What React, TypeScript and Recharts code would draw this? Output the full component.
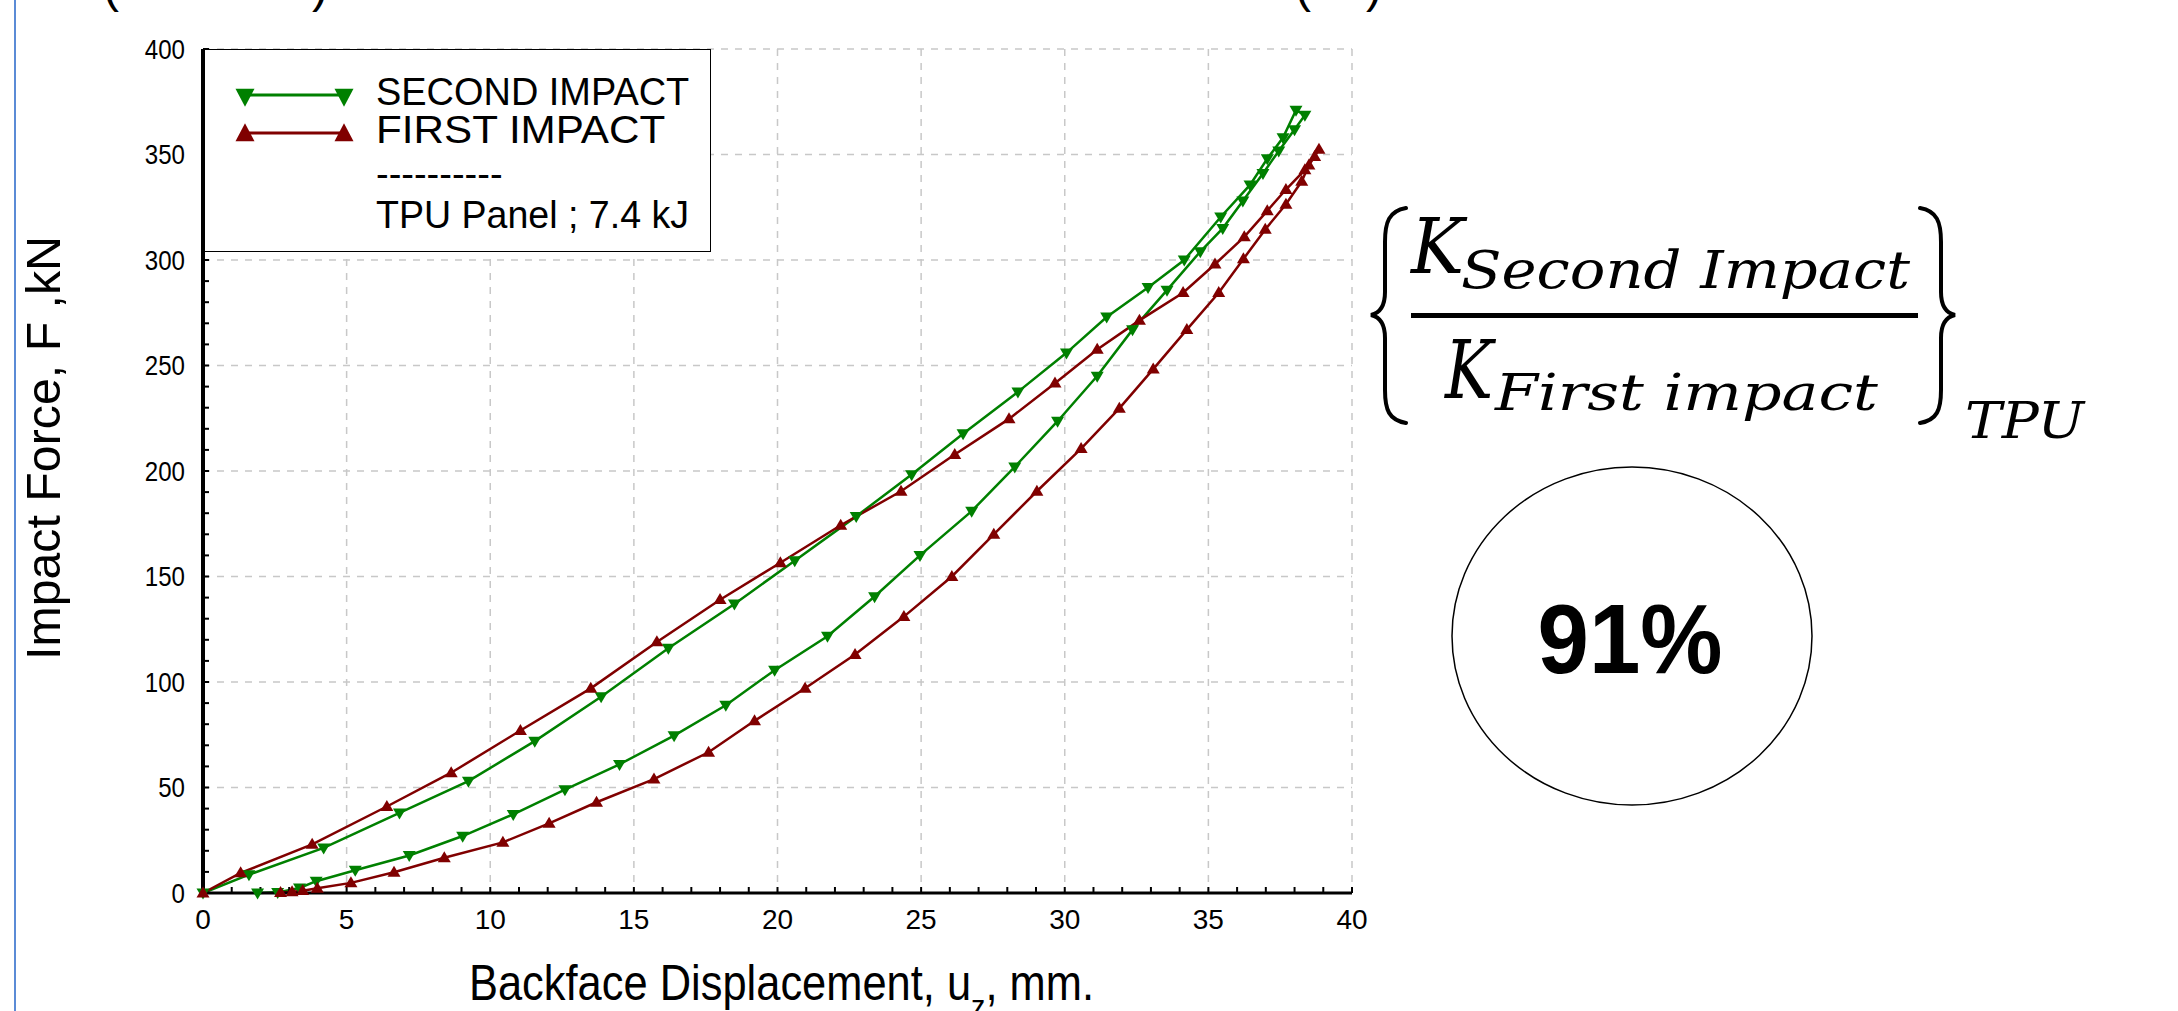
import React from 'react'
import { LineChart, Line, XAxis, YAxis, CartesianGrid, Legend } from 'recharts'

// backface displacement (mm) and impact force (kN)
// each series runs up the upper branch to the peak and back down the lower branch
const secondImpactDisp = [
  0, 1.6, 4.2, 6.84, 9.24, 11.55, 13.86, 16.2, 18.5, 20.6, 22.74, 24.67, 26.46, 28.37, 30.06, 31.46,
  32.9, 34.16, 35.43, 36.45, 37.05, 37.6, 38.05, 38.36, 38.0, 37.45, 36.9, 36.2, 35.5, 34.72, 33.56,
  32.36, 31.13, 29.75, 28.26, 26.76, 24.96, 23.38, 21.74, 19.9, 18.2, 16.4, 14.5, 12.6, 10.8, 9.04,
  7.18, 5.3, 3.94, 3.36, 2.6, 1.9,
]
const secondImpactForce = [
  0, 8.7, 21.4, 38, 53, 72, 93, 116, 137, 157.5, 178.5, 198.3, 217.7, 237.5, 256, 273,
  287, 300, 320.4, 335.6, 348, 358, 371, 368.6, 361.8, 351.7, 341, 328, 315, 304, 285.7,
  267, 245, 223.6, 202, 181, 160, 140.5, 121.7, 105.6, 89, 74.6, 61, 49, 37.3, 27,
  17.8, 10.8, 5.6, 2.4, 0.3, 0,
]
const firstImpactDisp = [
  0, 1.31, 3.8, 6.4, 8.64, 11.05, 13.5, 15.8, 18.0, 20.1, 22.2, 24.3, 26.17, 28.06, 29.66, 31.13,
  32.6, 34.12, 35.23, 36.25, 37.05, 37.7, 38.36, 38.85, 38.7, 38.5, 38.25, 37.7, 36.98, 36.22, 35.36,
  34.25, 33.08, 31.9, 30.57, 29.03, 27.53, 26.07, 24.4, 22.7, 20.96, 19.2, 17.6, 15.7, 13.7, 12.05,
  10.44, 8.4, 6.65, 5.15, 3.98, 3.47, 3.1, 2.7,
]
const firstImpactForce = [
  0, 9.5, 23, 41, 57, 77, 97, 119, 139, 156.5, 174.3, 190.4, 207.8, 224.7, 241.6, 257.6,
  271.4, 284.5, 298, 311, 323.3, 333.4, 342.7, 352.5, 349, 345, 337.3, 326.4, 314.5, 300.5, 284.5,
  267, 248.3, 229.7, 210.6, 190.4, 170, 150, 131, 113, 97, 81.6, 66.7, 54, 43, 33,
  24, 16.7, 9.8, 4.8, 2.2, 1.1, 0.6, 0.2,
]

const seriesNames = ['SECOND IMPACT', 'FIRST IMPACT']
const xMajorTicks = [0, 5, 10, 15, 20, 25, 30, 35, 40]
const xMinorTicks = [
  0, 1, 2, 3, 4, 5, 6, 7, 8, 9, 10, 11, 12, 13, 14, 15, 16, 17, 18, 19, 20,
  21, 22, 23, 24, 25, 26, 27, 28, 29, 30, 31, 32, 33, 34, 35, 36, 37, 38, 39, 40,
]
const yMajorTicks = [0, 50, 100, 150, 200, 250, 300, 350, 400]
const yMinorTicks = [
  0, 10, 20, 30, 40, 50, 60, 70, 80, 90, 100, 110, 120, 130, 140, 150, 160, 170, 180, 190, 200,
  210, 220, 230, 240, 250, 260, 270, 280, 290, 300, 310, 320, 330, 340, 350, 360, 370, 380, 390, 400,
]

const GREEN = '#008000'
const RED = '#800000'
const SANS = '"Liberation Sans", Arial, sans-serif'
const SERIF = '"DejaVu Serif", serif'

const toPoints = (xs: number[], ys: number[]) => xs.map((x, i) => ({ x, y: ys[i] }))
const secondData = toPoints(secondImpactDisp, secondImpactForce)
const firstData = toPoints(firstImpactDisp, firstImpactForce)

const markerDown: Record<string, boolean> = { 'SECOND IMPACT': true, 'FIRST IMPACT': false }

function triangle(cx: number, cy: number, w: number, h: number, down: boolean) {
  if (down) {
    return `M${cx - w / 2},${cy - h * 0.4} L${cx + w / 2},${cy - h * 0.4} L${cx},${cy + h * 0.6} Z`
  }
  return `M${cx - w / 2},${cy + h * 0.4} L${cx + w / 2},${cy + h * 0.4} L${cx},${cy - h * 0.6} Z`
}

const makeDot = (color: string, down: boolean) => (p: any) => (
  <path key={`${color}-${p.index}`} d={triangle(p.cx, p.cy, 13, 11, down)} fill={color} />
)

// y tick labels are a little narrow in the original
const YTick = ({ x, y, payload }: any) => {
  const label = yMajorTicks.includes(payload.value) ? String(payload.value) : ''
  if (!label) return null
  return (
    <text x={x} y={y} dy="0.355em" textAnchor="end" fontFamily={SANS} fontSize={28} fill="#000"
      textLength={label.length * 13.4} lengthAdjust="spacingAndGlyphs">
      {label}
    </text>
  )
}

const LegendBox = ({ payload }: any) => {
  const items = [...(payload || [])].sort(
    (a: any, b: any) => seriesNames.indexOf(a.value) - seriesNames.indexOf(b.value),
  )
  return (
    <div style={{ width: 507, height: 203, position: 'relative', background: '#fff', border: '1.5px solid #000', boxSizing: 'border-box' }}>
      <svg width={507} height={203} style={{ position: 'absolute', left: -1.5, top: -1.5 }}>
        {items.map((e: any, i: number) => {
          const y = 46 + i * 38
          const down = markerDown[e.value]
          return (
            <g key={e.value}>
              <line x1={41} x2={140} y1={y} y2={y} stroke={e.color} strokeWidth={3} />
              <path d={triangle(41, y + 1, 19, 18, down)} fill={e.color} />
              <path d={triangle(140, y + 1, 19, 18, down)} fill={e.color} />
              <text x={172} y={56 + i * 38} fontFamily={SANS} fontSize={39} fill="#000"
                textLength={e.value.length * 24.1} lengthAdjust="spacingAndGlyphs">{e.value}</text>
            </g>
          )
        })}
        <text x={172} y={138} fontFamily={SANS} fontSize={38} fill="#000">----------</text>
        <text x={172} y={179} fontFamily={SANS} fontSize={39} fill="#000" textLength={313} lengthAdjust="spacingAndGlyphs">
          TPU Panel ; 7.4 kJ
        </text>
      </svg>
    </div>
  )
}

const Annotations = () => (
  <svg width={2178} height={1011} style={{ position: 'absolute', left: 0, top: 0, pointerEvents: 'none' }}>
    <line x1={15} x2={15} y1={0} y2={1011} stroke="#5b8bd6" strokeWidth={2} />
    <g fontFamily={SANS} fontSize={48} fill="#000">
      <text x={103} y={2}>(</text>
      <text x={312} y={2}>)</text>
      <text x={1295} y={2}>(</text>
      <text x={1366} y={2}>)</text>
    </g>
    <text transform="translate(60,448) rotate(-90)" textAnchor="middle" fontFamily={SANS} fontSize={49}
      textLength={424} lengthAdjust="spacingAndGlyphs" fill="#000">
      Impact Force, F ,kN
    </text>
    <text x={469} y={1000} fontFamily={SANS} fontSize={50} fill="#000" textLength={625} lengthAdjust="spacingAndGlyphs">
      <tspan>Backface Displacement, u</tspan>
      <tspan fontSize={33} dy={18}>z</tspan>
      <tspan dy={-18}>, mm.</tspan>
    </text>

    <g fill="none" stroke="#000" strokeWidth={4} strokeLinecap="round">
      <path d="M1406,208 C1389,211 1385,222 1385,242 L1385,292 C1385,306 1380,313 1371,315 C1380,317 1385,324 1385,338 L1385,390 C1385,410 1389,420 1406,423" />
      <path d="M1920,208 C1937,211 1941,222 1941,242 L1941,292 C1941,306 1946,313 1955,315 C1946,317 1941,324 1941,338 L1941,390 C1941,410 1937,420 1920,423" />
    </g>
    <g fontFamily={SERIF} fontStyle="italic" fill="#000">
      <text x={1411} y={273} fontSize={77} textLength={53} lengthAdjust="spacingAndGlyphs">K</text>
      <text x={1461} y={288} fontSize={52} textLength={449} lengthAdjust="spacingAndGlyphs">Second Impact</text>
      <text x={1445} y={398} fontSize={80} textLength={48} lengthAdjust="spacingAndGlyphs">K</text>
      <text x={1495} y={410} fontSize={51} textLength={383} lengthAdjust="spacingAndGlyphs">First impact</text>
      <text x={1965} y={438} fontSize={50} textLength={119} lengthAdjust="spacingAndGlyphs">TPU</text>
    </g>
    <rect x={1411} y={313} width={507} height={5} fill="#000" />

    <ellipse cx={1632} cy={636} rx={180} ry={169} fill="none" stroke="#000" strokeWidth={1.5} />
    <text x={1630} y={673} textAnchor="middle" fontFamily={SANS} fontWeight="bold" fontSize={98} textLength={185} lengthAdjust="spacingAndGlyphs" fill="#000">
      91%
    </text>
  </svg>
)

const axisStroke = { stroke: '#000', strokeWidth: 3 }
const tickStroke = { stroke: '#000', strokeWidth: 2 }

export default function App() {
  return (
    <div style={{ position: 'absolute', left: 0, top: 0, width: 2178, height: 1011, background: '#fff', overflow: 'hidden' }}>
      <LineChart width={2178} height={1011} margin={{ top: 49, right: 826, bottom: 88, left: 143 }}>
        <CartesianGrid
          verticalValues={xMajorTicks}
          horizontalValues={yMajorTicks}
          stroke="#c8c8c8"
          strokeWidth={1.5}
          strokeDasharray="7 7"
        />
        <XAxis
          type="number"
          dataKey="x"
          domain={[0, 40]}
          ticks={xMinorTicks}
          interval={0}
          height={30}
          tickSize={-6}
          tickMargin={22}
          tickFormatter={(v: number) => (xMajorTicks.includes(v) ? String(v) : '')}
          tick={{ fontFamily: SANS, fontSize: 28, fill: '#000' }}
          axisLine={axisStroke}
          tickLine={tickStroke}
        />
        <XAxis
          xAxisId="top"
          orientation="top"
          type="number"
          domain={[0, 40]}
          ticks={xMinorTicks}
          interval={0}
          height={0}
          tickSize={-6}
          tick={false}
          axisLine={axisStroke}
          tickLine={tickStroke}
        />
        <YAxis
          type="number"
          domain={[0, 400]}
          ticks={yMinorTicks}
          interval={0}
          width={60}
          tickSize={-6}
          tickMargin={24}
          tick={<YTick />}
          axisLine={{ stroke: '#000', strokeWidth: 4 }}
          tickLine={tickStroke}
        />
        <YAxis
          yAxisId="right"
          orientation="right"
          type="number"
          domain={[0, 400]}
          ticks={yMinorTicks}
          interval={0}
          width={0}
          tickSize={-6}
          tick={false}
          axisLine={{ stroke: '#000', strokeWidth: 4 }}
          tickLine={tickStroke}
        />
        <Line
          data={secondData}
          dataKey="y"
          name={seriesNames[0]}
          type="linear"
          stroke={GREEN}
          strokeWidth={2.5}
          dot={makeDot(GREEN, true)}
          activeDot={false}
          isAnimationActive={false}
        />
        <Line
          data={firstData}
          dataKey="y"
          name={seriesNames[1]}
          type="linear"
          stroke={RED}
          strokeWidth={2.5}
          dot={makeDot(RED, false)}
          activeDot={false}
          isAnimationActive={false}
        />
        <Legend
          layout="vertical"
          align="center"
          verticalAlign="middle"
          content={<LegendBox />}
          wrapperStyle={{ left: 204, top: 49, width: 507, height: 203 }}
        />
      </LineChart>
      <Annotations />
    </div>
  )
}
